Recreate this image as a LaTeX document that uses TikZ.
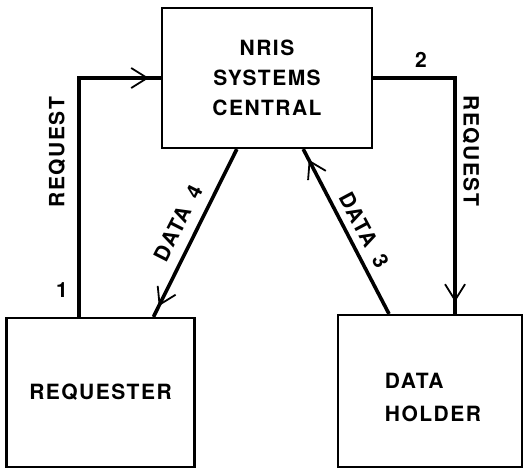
\documentclass[tikz,border=0pt]{standalone}
\usepackage{fontspec}
\setmainfont{TeX Gyre Heros}[LetterSpace=7]
\usepackage{tikz}
\usetikzlibrary{arrows.meta,decorations.markings}
\tikzstyle{block}=[rectangle, draw, line width=2.2pt, inner sep=0pt, font=\fontsize{21}{30}\selectfont\bfseries]
\tikzstyle{flow}=[line width=3.6pt, postaction={decorate}, decoration={markings,
                  mark=at position -12pt with {\arrow[line width=1.8pt]{Straight Barb[length=16pt,width=20pt]}}}]
\tikzstyle{lbl}=[font=\fontsize{21}{24}\selectfont\bfseries, inner sep=1pt]

\begin{document}
\begin{tikzpicture}[x=1pt, y=-1pt]
                    \useasboundingbox (0,0) rectangle (531,469);
                    \node[block, minimum width=210pt, minimum height=140pt, align=center] (nris) at (267,  78) {NRIS\\SYSTEMS\\CENTRAL};
                    \node[block, minimum width=188pt, minimum height=149pt]               (rq)   at (100.5,392.5) {REQUESTER};
                    \node[block, minimum width=184pt, minimum height=152pt]               (dh)   at (430, 391) {};
                    \node[lbl, align=left, font=\fontsize{21}{33}\selectfont\bfseries] (dhtext) at (433, 397) {DATA\\HOLDER};
                    \draw[flow]  (rq.106)     |- (nris.west);
                    \draw[flow]  (nris.east)  -| (dh.72.5);
                    \draw[flow]  (nris.-113)  -- (rq.55);
                    \draw[flow]  (dh.118)     -- (nris.-63);
                    \node[lbl, rotate=90]  (req1)  at (57,  152) {REQUEST};
                    \node[lbl]             (n1)    at (62,  290) {1};
                    \node[lbl]             (n2)    at (421,  60) {2};
                    \node[lbl, rotate=-90] (req2)  at (471, 151) {REQUEST};
                    \node[lbl, rotate=63]  (data4) at (178, 223) {DATA\hspace{12pt}4};
                    \node[lbl, rotate=-62] (data3) at (364, 230) {DATA\hspace{12pt}3};
                \end{tikzpicture}
\end{document}
